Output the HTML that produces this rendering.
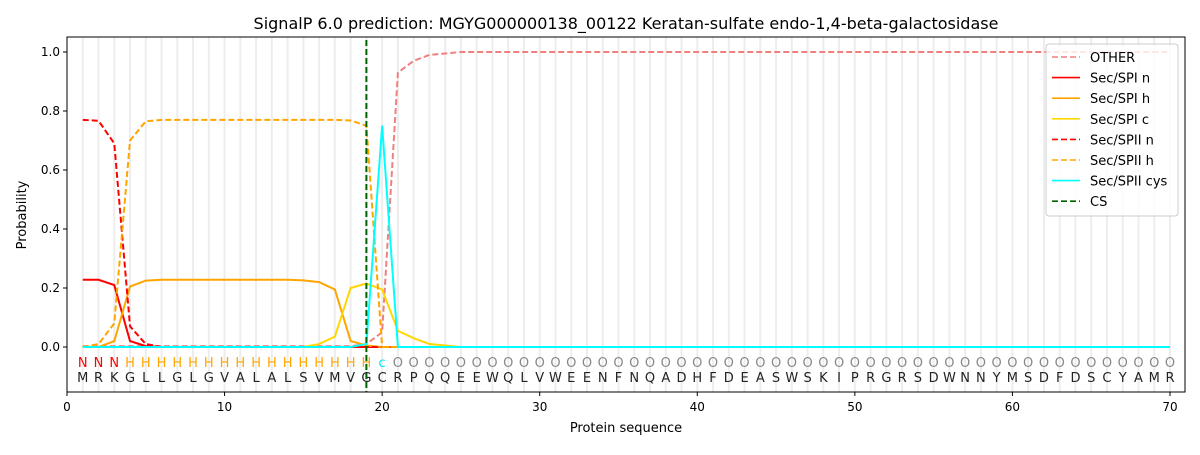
<!DOCTYPE html>
<html><head><meta charset="utf-8"><style>body{margin:0;background:#fff}svg{font-family:"DejaVu Sans","Liberation Sans",sans-serif}</style></head>
<body>
<svg id="s" width="1200" height="450" xmlns="http://www.w3.org/2000/svg">
<rect width="1200" height="450" fill="#fff"/>
<text x="626" y="29" font-size="16" text-anchor="middle">SignalP 6.0 prediction: MGYG000000138_00122 Keratan-sulfate endo-1,4-beta-galactosidase</text>
<g id="grid"></g>
<g id="lines"></g>
<g id="labels"></g>
<rect x="67" y="37" width="1118" height="355" fill="none" stroke="#000" stroke-width="1"/>
<g id="ticks" font-size="12"></g>
<text x="626" y="432" font-size="13" text-anchor="middle">Protein sequence</text>
<text transform="translate(26,215) rotate(-90)" font-size="13" text-anchor="middle">Probability</text>
<g id="legend" font-size="13"></g>
</svg>
<script>
const NS="http://www.w3.org/2000/svg";
const X=i=>67+i*15.757, Y=v=>347-v*295;
function el(p,t,a,txt){const e=document.createElementNS(NS,t);for(const k in a)e.setAttribute(k,a[k]);if(txt!==undefined)e.textContent=txt;document.getElementById(p).appendChild(e);return e;}
for(let i=1;i<=70;i++)el("grid","line",{x1:X(i),x2:X(i),y1:37,y2:392,stroke:"#ededed","stroke-width":2});
function arr(m,def){const a=[];for(let i=1;i<=70;i++)a.push(m[i]!==undefined?m[i]:def);return a;}
const other=arr({21:0.93,22:0.97,23:0.99,24:0.995,20:0.05,19:0.01},0.005).map((v,i)=>i+1>=25?1:(i+1<19?0.003:v));
const spin=arr({1:0.228,2:0.228,3:0.21,4:0.02,5:0.003},0);
const spih=arr({1:0,2:0,3:0.02,4:0.205,5:0.225,15:0.226,16:0.22,17:0.195,18:0.02,19:0.005},0).map((v,i)=>(i+1>=6&&i+1<=14)?0.228:v);
const spic=arr({16:0.01,17:0.035,18:0.2,19:0.215,20:0.195,21:0.055,22:0.03,23:0.01,24:0.005},0);
const spiin=arr({1:0.77,2:0.767,3:0.69,4:0.07,5:0.01},0);
const spiih=arr({1:0,2:0.01,3:0.08,4:0.7,5:0.765,18:0.768,19:0.75,20:0},0).map((v,i)=>(i+1>=6&&i+1<=17)?0.77:v);
const cys=arr({19:0.01,20:0.75},0);
const series=[["OTHER",other,"#f08080","6,3"],["Sec/SPI n",spin,"#ff0000",""],["Sec/SPI h",spih,"#ffa500",""],["Sec/SPI c",spic,"#ffd700",""],["Sec/SPII n",spiin,"#ff0000","6,3"],["Sec/SPII h",spiih,"#ffa500","6,3"],["Sec/SPII cys",cys,"#00ffff",""]];
for(const [n,d,c,da] of series){el("lines","polyline",{points:d.map((v,i)=>X(i+1)+","+Y(v)).join(" "),fill:"none",stroke:c,"stroke-width":2,"stroke-dasharray":da});}
el("lines","line",{x1:X(19),x2:X(19),y1:40,y2:392,stroke:"#006400","stroke-width":2,"stroke-dasharray":"6,3"});
const seq="MRKGLLGLGVALALSVMVGCRPQQEEWQLVWEENFNQADHFDEASWSKIPRGRSDWNNYMSDFDSCYAMR";
for(let i=1;i<=70;i++){let l,c;if(i<=3){l="N";c="#ff0000"}else if(i<=19){l="H";c="#ffa500"}else if(i==20){l="c";c="#00e5ee"}else{l="O";c="#888"}
el("labels","text",{x:X(i),y:367,"font-size":13,"text-anchor":"middle",fill:c},l);
el("labels","text",{x:X(i),y:382,"font-size":13,"text-anchor":"middle",fill:"#222"},seq[i-1]);}
for(let t=0;t<=70;t+=10){el("ticks","line",{x1:X(t),x2:X(t),y1:392,y2:396,stroke:"#000"});el("ticks","text",{x:X(t),y:411,"text-anchor":"middle"},t);}
for(let k=0;k<=5;k++){const v=k*0.2;el("ticks","line",{x1:63,x2:67,y1:Y(v),y2:Y(v),stroke:"#000"});el("ticks","text",{x:60,y:Y(v)+4,"text-anchor":"end"},v.toFixed(1));}
el("legend","rect",{x:1046,y:44,width:132,height:172,fill:"#fff",stroke:"#ccc",rx:3,"fill-opacity":0.8});
const leg=series.concat([["CS",null,"#006400","6,3"]]);
leg.forEach(([n,d,c,da],j)=>{const y=57+j*20.6;el("legend","line",{x1:1052,x2:1080,y1:y,y2:y,stroke:c,"stroke-width":1.6,"stroke-dasharray":da});el("legend","text",{x:1090,y:y+5},n);});
</script>
</body></html>
